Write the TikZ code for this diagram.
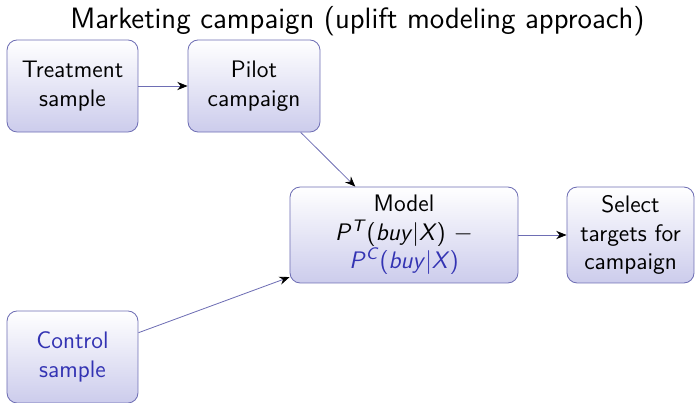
\documentclass[tikz,border=0pt]{standalone}
\usepackage{tikz}
\usepackage{color}
\usetikzlibrary{positioning, shapes, arrows.meta}
\definecolor{mystruct}{RGB}{51,51,179}
\definecolor{myedge}{RGB}{110,110,180}
\newcommand{\sit}[1]{\textit{#1}}
\tikzset{
  stagebox/.style={draw=myedge, line width=0.4pt, rounded corners=5pt, align=center,
    top color=white, bottom color=mystruct!25, inner sep=2pt},
  flow/.style={-{Stealth[black,length=5pt,width=4pt]}, line width=0.4pt, color=myedge}
}

\begin{document}
\begin{tikzpicture}[x=0.4854pt, y=-0.4854pt, font=\sffamily\fontsize{11.6}{13.8}\selectfont]

\useasboundingbox (0,0) rectangle (695,403);

\node [font=\sffamily\fontsize{14.3}{17}\selectfont, anchor=base] (title) at (357.5,29) {Marketing campaign (uplift modeling approach)};

\node [stagebox, minimum width=63.6pt, minimum height=44.7pt] (treat) at (72.5,86) {Treatment\\sample};
\node [stagebox, minimum width=64.1pt, minimum height=44.7pt] (pilot) at (254,86) {Pilot\\campaign};
\node [stagebox, minimum width=110.7pt, minimum height=46.6pt] (model) at (404,235)
  {Model\\\sit{P}\textsuperscript{\sit{T}}(\sit{buy}|\sit{X}) $-$\\
   \textcolor{mystruct}{\sit{P}\textsuperscript{\sit{C}}(\sit{buy}|\sit{X})}};
\node [stagebox, minimum width=61.7pt, minimum height=46.6pt] (select) at (630.5,235) {Select\\targets for\\campaign};
\node [stagebox, minimum width=63.6pt, minimum height=44.7pt, text=mystruct] (control) at (72.5,357) {Control\\sample};

\draw[flow] (treat) -- (pilot);
\draw[flow] (pilot) -- (model);
\draw[flow] (control) -- (model);
\draw[flow] (model) -- (select);

\end{tikzpicture}
\end{document}
